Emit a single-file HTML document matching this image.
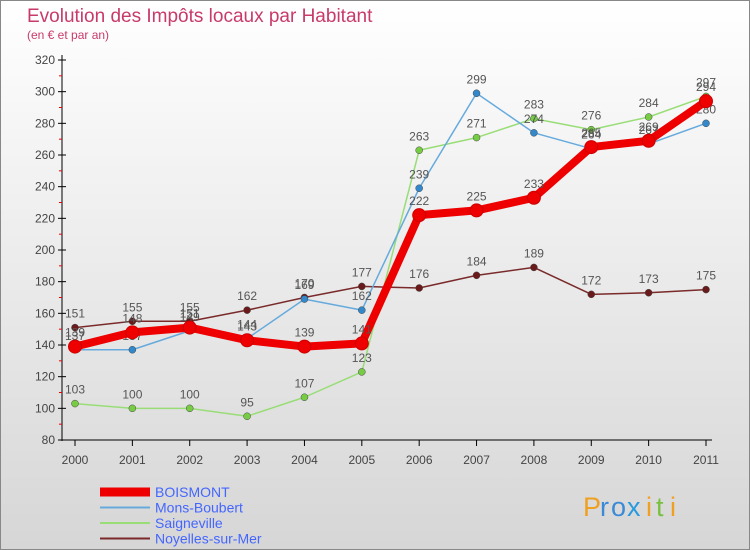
<!DOCTYPE html>
<html><head><meta charset="utf-8"><style>
body{margin:0;width:750px;height:550px;overflow:hidden;font-family:"Liberation Sans",sans-serif}
svg{display:block}
</style></head><body>
<svg id="c" width="750" height="550" xmlns="http://www.w3.org/2000/svg">
<defs><linearGradient id="bg" x1="0" y1="0" x2="0" y2="1"><stop offset="0" stop-color="#ffffff"/><stop offset="1" stop-color="#d6d6d6"/></linearGradient></defs>
<rect x="0.5" y="0.5" width="749" height="549" fill="url(#bg)" stroke="#888"/>
<text x="27" y="22" font-size="19" fill="#c83a6a">Evolution des Impôts locaux par Habitant</text>
<text x="27" y="39" font-size="12" fill="#c83a6a">(en € et par an)</text>
<g id="axes"></g><g id="series"></g><g id="legend"></g>
<g font-size="27">
<text x="583" y="516" fill="#f0a020">P</text><text x="600" y="516" fill="#3a8ad8">r</text><text x="611" y="516" fill="#3a8ad8">o</text><text x="627" y="516" fill="#2a9ae0">x</text><text x="646" y="516" fill="#f0a020">i</text><text x="656" y="516" fill="#7ac040">t</text><text x="670" y="516" fill="#f0a020">i</text>
</g>
</svg>
<script>
const years=["2000","2001","2002","2003","2004","2005","2006","2007","2008","2009","2010","2011"];
const boismont=[139,148,151,143,139,141,222,225,233,265,269,294];
const monsBoubert=[137,137,149,144,169,162,239,299,274,264,267,280];
const saigneville=[103,100,100,95,107,123,263,271,283,276,284,297];
const noyelles=[151,155,155,162,170,177,176,184,189,172,173,175];
const yTicks=[80,100,120,140,160,180,200,220,240,260,280,300,320];
const NS="http://www.w3.org/2000/svg";
const xS=i=>75+i*(706-75)/11;
const yS=v=>440-(v-80)*(380/240);
function mk(t,a,p){const e=document.createElementNS(NS,t);for(const k in a)e.setAttribute(k,a[k]);p.appendChild(e);return e;}
const ax=document.getElementById('axes');
let l=mk('line',{x1:62,y1:55,x2:62,y2:441,stroke:'#000'},ax);


l=mk('line',{x1:62,y1:440,x2:712,y2:440,stroke:'#000'},ax);


yTicks.forEach((v,i)=>{const y=yS(v);
 mk('line',{x1:58,y1:y,x2:66,y2:y,stroke:'#000'},ax);
 if(i<yTicks.length-1){const ym=yS(v+10);mk('line',{x1:59,y1:ym,x2:62,y2:ym,stroke:'#e00'},ax);}
 const t=mk('text',{x:55,y:y+4,'text-anchor':'end','font-size':12,fill:'#444'},ax);t.textContent=v;
 
 
});
years.forEach((yr,i)=>{const x=xS(i);
 mk('line',{x1:x,y1:440,x2:x,y2:446,stroke:'#000'},ax);
 const t=mk('text',{x:x,y:464,'text-anchor':'middle','font-size':12,fill:'#444'},ax);t.textContent=yr;
 
 
});
const seriesDefs=[
 {name:'noyelles-sur-mer',label:'Noyelles-sur-Mer',d:noyelles,c:'#7a2a2a',w:1.5,r:3.5,f:'#6a1a1a'},
 {name:'saigneville',label:'Saigneville',d:saigneville,c:'#99dd77',w:1.5,r:3.5,f:'#77cc44'},
 {name:'mons-boubert',label:'Mons-Boubert',d:monsBoubert,c:'#66aadd',w:1.5,r:3.5,f:'#3388cc'},
 {name:'boismont',label:'BOISMONT',d:boismont,c:'#ee0000',w:8,r:6.5,f:'#ee0000'}];
const sg=document.getElementById('series');
seriesDefs.forEach(s=>{
 const g=mk('g',{},sg);
 
 
 const p=mk('polyline',{points:s.d.map((v,i)=>xS(i)+','+yS(v)).join(' '),fill:'none',stroke:s.c,'stroke-width':s.w,'stroke-linejoin':'round'},g);
 
 
 s.d.forEach((v,i)=>{
  const c=mk('circle',{cx:xS(i),cy:yS(v),r:s.r,fill:s.f,stroke:s.name==='boismont'?'#cc0000':'#444','stroke-width':s.name==='boismont'?1:0.5},g);
  
  
  const t=mk('text',{x:xS(i),y:yS(v)-10,'text-anchor':'middle','font-size':12,fill:'#555'},g);t.textContent=v;
  
  
 });
});
const lg=document.getElementById('legend');
const order=[seriesDefs[3],seriesDefs[2],seriesDefs[1],seriesDefs[0]];
order.forEach((s,i)=>{const y=492+i*15.5;
 const g=mk('g',{},lg);
 
 
 mk('line',{x1:100,y1:y,x2:150,y2:y,stroke:s.c,'stroke-width':s.name==='boismont'?9:2},g);
 const t=mk('text',{x:155,y:y+5,'font-size':14,fill:'#4466ff'},g);t.textContent=s.label;
});
</script>
</body></html>
